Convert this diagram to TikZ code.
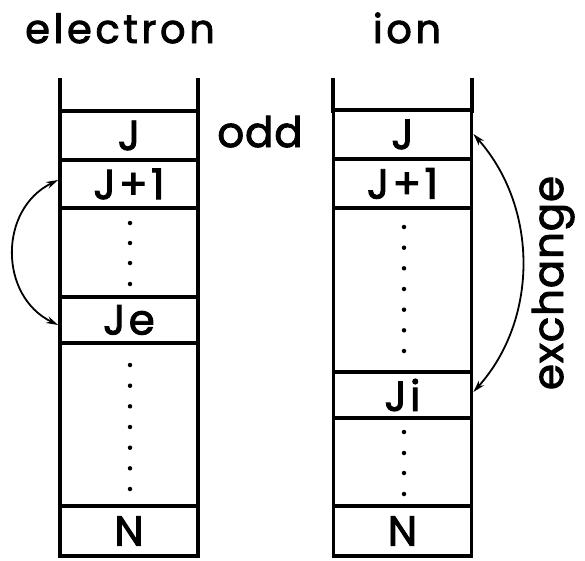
\documentclass[tikz,border=0pt]{standalone}
\usepackage{fontspec}
\setmainfont{Poppins}
\usetikzlibrary{arrows.meta}
\tikzset{
  wall/.style={line width=3.8pt, line cap=rect},
  cell/.style={draw, line width=3.8pt, minimum width=138pt, inner sep=0pt,
    font=\fontsize{42}{42}\selectfont\addfontfeature{LetterSpace=8,FakeBold=2.2}},
  title/.style={inner sep=0pt, anchor=base, font=\fontsize{40}{40}\selectfont\addfontfeature{LetterSpace=9,FakeBold=2.2}},
  side/.style={inner sep=0pt, anchor=base, font=\fontsize{42}{42}\selectfont\addfontfeature{LetterSpace=2,FakeBold=2.2}},
  dot/.style={fill, circle, inner sep=0pt, minimum size=4.5pt},
  jump/.style={line width=1.8pt, {Stealth[length=12pt,width=7pt]}-{Stealth[length=12pt,width=7pt]}}
}
\begin{document}
\begin{tikzpicture}[x=1pt,y=-1pt]
\useasboundingbox (0,0) rectangle (585,560);

% column headings
\node[title] (telec) at (120,43) {electron};
\node[title] (tion) at (407,43) {ion};

% electron levels
\draw[wall] (60,80) -- (60,112);
\draw[wall] (198,80) -- (198,112);
\node[cell, minimum height=49pt] (eJ)  at (129,135.5) {J};
\node[cell, minimum height=48pt] (eJ1) at (129,184) {J+1};
\node[cell, minimum height=89pt] (eD1) at (129,252.5) {};
\node[cell, minimum height=46pt] (eJe) at (129,320) {Je};
\node[cell, minimum height=163pt] (eD2) at (129,424.5) {};
\node[cell, minimum height=50pt] (eN)  at (129,531) {N};
\foreach \y in {223,243,263,284} \node[dot] at (130,\y) {};
\foreach \y in {365,385.7,406.3,427,447.7,468.3,489} \node[dot] at (130,\y) {};

% ion levels
\draw[wall] (333,80) -- (333,111);
\draw[wall] (472,80) -- (472,111);
\node[cell, minimum height=49pt] (iJ)  at (402.5,134.5) {J};
\node[cell, minimum height=49pt] (iJ1) at (402.5,183.5) {J+1};
\node[cell, minimum height=164pt] (iD1) at (402.5,290) {};
\node[cell, minimum height=46pt] (iJi) at (402.5,395) {Ji};
\node[cell, minimum height=88pt] (iD2) at (402.5,462) {};
\node[cell, minimum height=50pt] (iN)  at (402.5,531) {N};
\foreach \y in {227,247.7,268.3,289,309.7,330.3,351} \node[dot] at (404,\y) {};
\foreach \y in {432,453,473,494} \node[dot] at (404,\y) {};

% side labels
\node[side] (odd) at (260,147) {odd};
\node[side, rotate=90] (exch) at (563,283) {exchange};

% transitions
\draw[jump] (eJ1.west |- 0,180) .. controls (-1.4,209) and (-1.4,296) .. (eJe.west |- 0,325);
\draw[jump] (iJ.east |- 0,134) .. controls (538.6,207.7) and (538.6,319.3) .. (iJi.east |- 0,392);
\end{tikzpicture}
\end{document}
